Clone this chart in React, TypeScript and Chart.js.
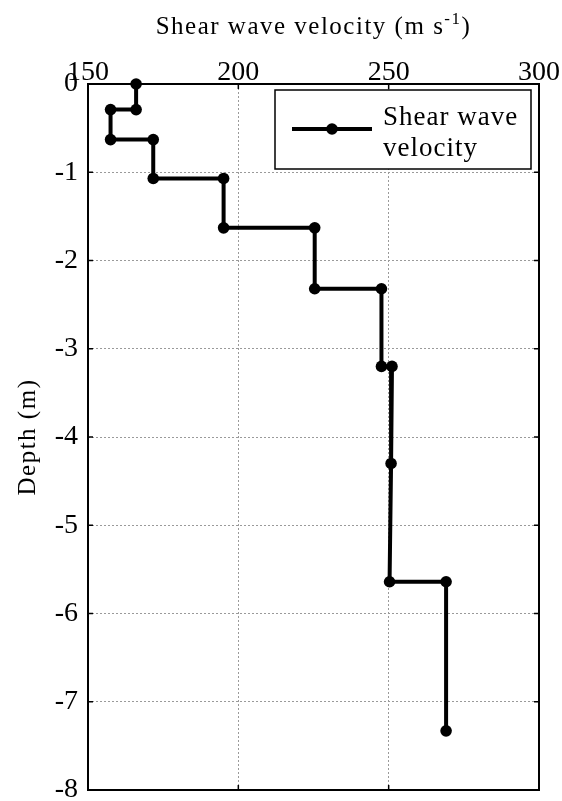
import React, { useEffect, useRef } from "react";
import { Chart, registerables } from "chart.js";

Chart.register(...registerables);

// ---- data ----
const velocity = [166, 166, 157.5, 157.5, 171.7, 171.7, 195.1, 195.1, 225.4, 225.4, 247.6, 247.6, 251.1, 250.8, 250.3, 269.1, 269.1];
const depth = [0, -0.29, -0.29, -0.63, -0.63, -1.07, -1.07, -1.63, -1.63, -2.32, -2.32, -3.2, -3.2, -4.3, -5.64, -5.64, -7.33];
const xTicks = [150, 200, 250, 300];
const yTicks = [0, -1, -2, -3, -4, -5, -6, -7, -8];
const seriesLabelLines = ["Shear wave", "velocity"];
const xTitleMain = "Shear wave velocity (m s";
const xTitleSup = "-1";
const xTitleEnd = ")";
const yTitle = "Depth (m)";

const FONT = "'Liberation Serif', 'Times New Roman', serif";

const framePlugin = {
  id: "frame",
  beforeDatasetsDraw(chart: any) {
    const { ctx, chartArea: a, scales } = chart;
    ctx.save();
    ctx.strokeStyle = "#000";
    ctx.lineWidth = 1.5;
    const tl = 5;
    ctx.beginPath();
    xTicks.forEach((v) => {
      const x = scales.x.getPixelForValue(v);
      ctx.moveTo(x, a.top);
      ctx.lineTo(x, a.top + tl);
      ctx.moveTo(x, a.bottom);
      ctx.lineTo(x, a.bottom - tl);
    });
    yTicks.forEach((v) => {
      const y = scales.y.getPixelForValue(v);
      ctx.moveTo(a.left, y);
      ctx.lineTo(a.left + tl, y);
      ctx.moveTo(a.right, y);
      ctx.lineTo(a.right - tl, y);
    });
    ctx.stroke();
    ctx.lineWidth = 2;
    ctx.strokeRect(a.left, a.top, a.right - a.left, a.bottom - a.top);

    // x title with superscript
    ctx.fillStyle = "#000";
    ctx.textBaseline = "alphabetic";
    ctx.textAlign = "left";
    (ctx as any).letterSpacing = "1.5px";
    ctx.font = `25px ${FONT}`;
    const w1 = ctx.measureText(xTitleMain).width;
    const w3 = ctx.measureText(xTitleEnd).width;
    ctx.font = `17px ${FONT}`;
    const w2 = ctx.measureText(xTitleSup).width;
    const total = w1 + w2 + w3;
    const cx = (a.left + a.right) / 2;
    const x0 = cx - total / 2;
    const base = 34;
    ctx.font = `25px ${FONT}`;
    ctx.fillText(xTitleMain, x0, base);
    ctx.font = `17px ${FONT}`;
    ctx.fillText(xTitleSup, x0 + w1, base - 10);
    ctx.font = `25px ${FONT}`;
    ctx.fillText(xTitleEnd, x0 + w1 + w2, base);

    // y title rotated
    ctx.save();
    ctx.translate(28, (a.top + a.bottom) / 2);
    ctx.rotate(-Math.PI / 2);
    ctx.textAlign = "center";
    ctx.textBaseline = "middle";
    ctx.font = `25px ${FONT}`;
    ctx.fillText(yTitle, 0, 0);
    ctx.restore();
    ctx.restore();
  },
  afterDatasetsDraw(chart: any) {
    const { ctx, chartArea: a } = chart;
    ctx.save();
    const bw = 256;
    const bh = 79;
    const bl = a.right - 8 - bw;
    const bt = a.top + 6;
    ctx.fillStyle = "#fff";
    ctx.fillRect(bl, bt, bw, bh);
    ctx.strokeStyle = "#000";
    ctx.lineWidth = 1.5;
    ctx.strokeRect(bl, bt, bw, bh);
    const ly = bt + 39;
    ctx.lineWidth = 4;
    ctx.beginPath();
    ctx.moveTo(bl + 17, ly);
    ctx.lineTo(bl + 97, ly);
    ctx.stroke();
    ctx.fillStyle = "#000";
    ctx.beginPath();
    ctx.arc(bl + 57, ly, 5.8, 0, Math.PI * 2);
    ctx.fill();
    ctx.font = `27px ${FONT}`;
    (ctx as any).letterSpacing = "1px";
    ctx.textAlign = "left";
    ctx.textBaseline = "alphabetic";
    ctx.fillText(seriesLabelLines[0], bl + 108, bt + 35);
    ctx.fillText(seriesLabelLines[1], bl + 108, bt + 66);
    ctx.restore();
  },
};

export default function App() {
  const ref = useRef<HTMLCanvasElement>(null);
  useEffect(() => {
    document.body.style.margin = "0";
    const points = velocity.map((v, i) => ({ x: v, y: depth[i] }));
    const chart = new Chart(ref.current as HTMLCanvasElement, {
      type: "scatter",
      data: {
        datasets: [
          {
            label: seriesLabelLines.join(" "),
            data: points,
            showLine: true,
            borderColor: "#000",
            backgroundColor: "#000",
            borderWidth: 4,
            pointRadius: 5.8,
            pointHoverRadius: 5.8,
            pointBackgroundColor: "#000",
            pointBorderWidth: 0,
            clip: false as any,
          },
        ],
      },
      options: {
        animation: false,
        responsive: false,
        devicePixelRatio: 1,
        layout: { padding: { left: 0, top: 0, right: 23, bottom: 11 } },
        plugins: { legend: { display: false }, tooltip: { enabled: false } },
        scales: {
          x: {
            type: "linear",
            position: "top",
            min: 150,
            max: 300,
            afterBuildTicks: (s: any) => {
              s.ticks = xTicks.map((v) => ({ value: v }));
            },
            afterFit: (s: any) => {
              s.height = 84;
              s.paddingLeft = 0;
              s.paddingRight = 0;
            },
            ticks: {
              color: "#000",
              padding: 0,
              font: { family: FONT, size: 28, lineHeight: 0.8 },
              maxRotation: 0,
            },
            grid: { color: "#9a9a9a", lineWidth: 1, drawTicks: false },
            border: { display: false, dash: [2, 2] },
          },
          y: {
            type: "linear",
            min: -8,
            max: 0,
            afterBuildTicks: (s: any) => {
              s.ticks = yTicks.map((v) => ({ value: v }));
            },
            afterFit: (s: any) => {
              s.width = 88;
              s.paddingTop = 0;
              s.paddingBottom = 0;
            },
            ticks: {
              color: "#000",
              padding: 10,
              font: { family: FONT, size: 28, lineHeight: 0.8 },
            },
            grid: { color: "#9a9a9a", lineWidth: 1, drawTicks: false },
            border: { display: false, dash: [2, 2] },
          },
        },
      },
      plugins: [framePlugin],
    });
    return () => chart.destroy();
  }, []);
  return <canvas ref={ref} width={562} height={801} style={{ display: "block" }} />;
}
